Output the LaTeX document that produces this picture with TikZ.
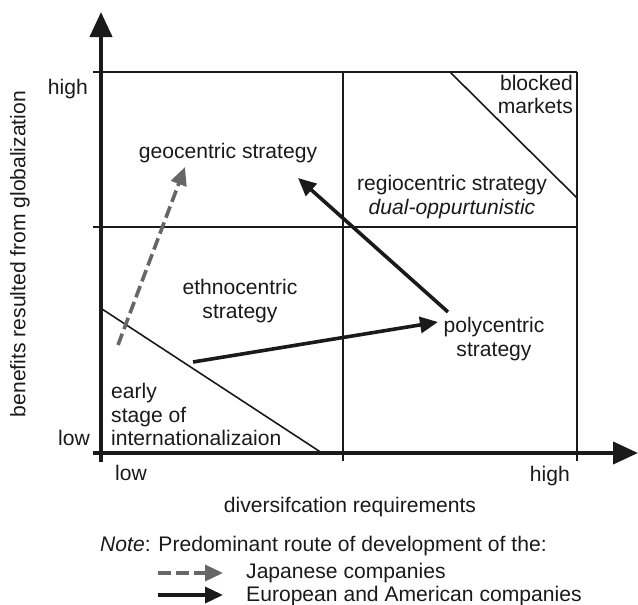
\documentclass[tikz,border=0pt]{standalone}
\usepackage{fontspec}
\setmainfont{Liberation Sans}
\usetikzlibrary{arrows.meta}
\definecolor{routegray}{HTML}{666666}
\definecolor{ink}{HTML}{1A1A1A}
\begin{document}
\begin{tikzpicture}[x=1pt,y=-1pt,
  every node/.style={font=\fontsize{21.1}{23.3}\selectfont, text=ink, inner sep=0pt},
  axis/.style={line width=4pt, draw=ink, -{Triangle[length=25pt,width=22pt]}},
  grid/.style={line width=1.3pt, draw=ink},
  border/.style={line width=1.6pt, draw=ink},
  route/.style={line width=3.6pt, draw=ink, -{Triangle[length=18pt,width=16pt]}},
  jroute/.style={line width=3.6pt, draw=routegray, dash pattern=on 12pt off 5pt,
    -{Triangle[length=18pt,width=16pt]}},
  lbl/.style={align=center}]
\useasboundingbox (0,0) rectangle (638,605);

% quadrant grid
\draw[grid] (93,72) -- (577,72);
\draw[grid] (93,227) -- (577,227);
\draw[grid] (343,72) -- (343,461);
\draw[grid] (577,72) -- (577,461);

% region boundaries
\coordinate (bm1) at (450,72);
\coordinate (bm2) at (577,198);
\draw[border] (bm1) -- (bm2);
\coordinate (es1) at (102,309);
\coordinate (es2) at (322,453);
\draw[border] (es1) -- (es2);

% axes
\coordinate (yb) at (101,462);
\coordinate (yt) at (101,12);
\coordinate (xl) at (93,453);
\coordinate (xr) at (638,453);
\draw[axis] (yb) -- (yt);
\draw[axis] (xl) -- (xr);

% axis labels
\node[anchor=east] (yhigh) at (88,89) {high};
\node[anchor=east] (ylow) at (90,438) {low};
\node[anchor=west] (xlow) at (115,473) {low};
\node[anchor=east] (xhigh) at (570,476) {high};
\node[rotate=90] (ytitle) at (20,254) {benefits resulted from globalization};
\node (xtitle) at (350,507) {diversifcation requirements};

% strategy regions
\node (geo) at (228,153) {geocentric strategy};
\node[lbl] (regio) at (452,197) {regiocentric strategy\\\itshape dual-oppurtunistic};
\node[align=right,anchor=north east] (blocked) at (573,75) {blocked\\markets};
\node[lbl] (ethno) at (240,301) {ethnocentric\\strategy};
\node[lbl] (poly) at (494,339) {polycentric\\strategy};
\node[align=left,anchor=south west] (early) at (111,446) {early\\stage of\\internationalizaion};

% development routes
\coordinate (j0) at (118,345);
\coordinate (j1) at (185,167);
\draw[jroute] (j0) -- (j1);
\coordinate (e0) at (193,362);
\coordinate (e1) at (438,322);
\draw[route] (e0) -- (e1);
\coordinate (p0) at (448,312);
\coordinate (p1) at (298,178);
\draw[route] (p0) -- (p1);

% note and legend
\node[anchor=west] (note) at (100,546) {\textit{Note}: Predominant route of development of the:};
\coordinate (lj0) at (158,573);
\coordinate (lj1) at (223,573);
\draw[jroute, dash pattern=on 13pt off 5pt] (lj0) -- (lj1);
\node[anchor=west] (jap) at (246,573) {Japanese companies};
\coordinate (le0) at (158,595);
\coordinate (le1) at (223,595);
\draw[route] (le0) -- (le1);
\node[anchor=west] (eur) at (246,596) {European and American companies};
\end{tikzpicture}
\end{document}
